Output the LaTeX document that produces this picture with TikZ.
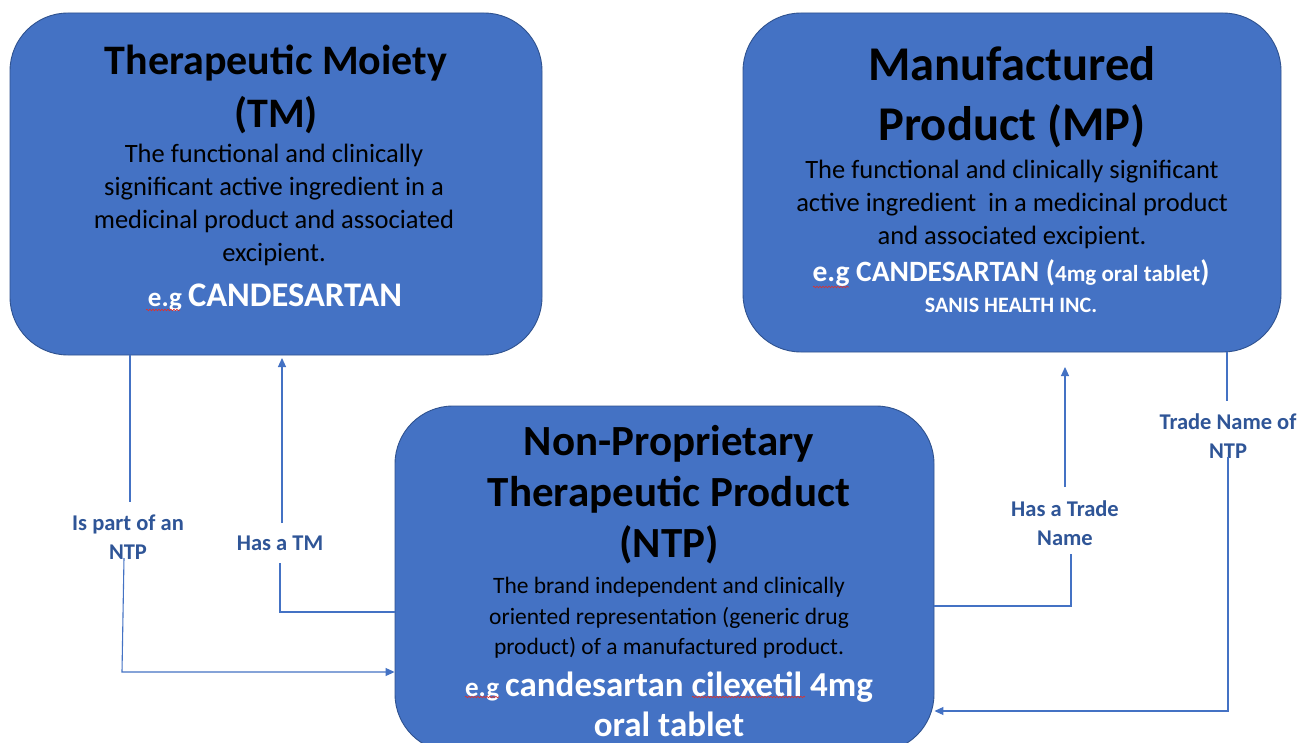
\documentclass[tikz,border=0pt]{standalone}
\usepackage{fontspec}
\setmainfont{Carlito}
\usetikzlibrary{arrows.meta,decorations.pathmorphing}
\definecolor{boxblue}{HTML}{4472C4}
\definecolor{boxline}{HTML}{2F528F}
\definecolor{lineblue}{HTML}{4472C4}
\definecolor{lblblue}{HTML}{2F5597}
\definecolor{spellred}{HTML}{E0302A}
\newcommand{\fs}[2]{\fontsize{#1}{#2}\selectfont}
\tikzset{
  box/.style={draw=boxline, fill=boxblue, rounded corners=58pt, line width=0.9pt, inner sep=0pt},
  title/.style={align=center, text=black, inner sep=0pt},
  body/.style={align=center, text=black, inner sep=0pt},
  example/.style={align=center, text=white, inner sep=0pt},
  conn/.style={draw=lineblue, line width=1.1pt},
  arr/.style={-{Triangle[length=9pt,width=8pt]}},
  lbl/.style={text=lblblue, align=center, inner sep=0pt, font=\bfseries\fs{22.5}{29.5}},
  spell/.style={draw=spellred, line width=0.6pt, decorate, decoration={snake, amplitude=0.8pt, segment length=3pt}},
}
\begin{document}
\begin{tikzpicture}[x=1pt,y=-1pt]
\clip (0,0) rectangle (1305,743);
\fill[white] (0,0) rectangle (1305,743);

% boxes
\node[box, minimum width=532pt, minimum height=342pt] (tm) at (276,184) {};
\node[box, minimum width=538pt, minimum height=339pt] (mp) at (1012,182.5) {};
\node[box, minimum width=539pt, minimum height=346pt] (ntp) at (664.5,579) {};

% TM text
\node[title, font=\bfseries\fs{42}{53}] (tmtitle) at (276,89) {Therapeutic Moiety\\(TM)};
\node[body, font=\fs{26.5}{33}] (tmbody) at (274,205) {The functional and clinically\\significant active ingredient in a\\medicinal product and associated\\excipient.};
\node[example, font=\bfseries\fs{34.5}{40}] (tmeg) at (275,297) {{\fs{27}{40}e.g }CANDESARTAN};

% MP text
\node[title, font=\bfseries\fs{48.5}{60}] (mptitle) at (1012,97) {Manufactured\\Product (MP)};
\node[body, font=\fs{26.5}{33}] (mpbody) at (1012,204) {The functional and clinically significant\\active ingredient\ \ in a medicinal product\\and associated excipient.};
\node[example, font=\bfseries\fs{29.5}{32}] (mpeg) at (1011,273) {e.g CANDESARTAN ({\fs{23}{32}4mg oral tablet})};
\node[example, font=\bfseries\fs{22}{28}] (mpsanis) at (1011,305) {SANIS HEALTH INC.};

% NTP text
\node[title, font=\bfseries\fs{43}{51}] (ntptitle) at (669,495) {Non-Proprietary\\Therapeutic Product\\(NTP)};
\node[body, font=\fs{23.5}{30.5}] (ntpbody) at (669,618) {The brand independent and clinically\\oriented representation (generic drug\\product) of a manufactured product.};
\node[example, font=\bfseries\fs{35}{40}] (ntpeg) at (669,704) {{\fs{27}{40}e.g }candesartan cilexetil 4mg\\oral tablet};

% labels
\node[lbl] (lab1) at (128,537) {Is part of an\\NTP};
\node[lbl] (lab2) at (280,543) {Has a TM};
\node[lbl] (lab3) at (1065,523) {Has a Trade\\Name};
\node[lbl] (lab4) at (1228,436) {Trade Name of\\NTP};

% connectors
\draw[conn] (tm.south -| 130,0) -- (130,502);
\draw[conn,arr] (124,558) -- (122,672) -- (ntp.west |- 0,672);

\draw[conn] (ntp.west |- 0,612) -| (280,563);
\draw[conn,arr] (282,523) -- (282,358);

\draw[conn] (ntp.east |- 0,606) -| (1071,554);
\draw[conn,arr] (1065,487) -- (1065,367);

\draw[conn] (mp.south -| 1227,0) -- (1227,401);
\draw[conn,arr] (1228,457) |- (ntp.east |- 0,711);

% spell-check underlines
\draw[spell] (146,310) -- (180,310);
\draw[spell] (813,287) -- (849,287);
\draw[spell] (465,697) -- (499,697);
\draw[spell] (692,697) -- (805,697);
\end{tikzpicture}
\end{document}
